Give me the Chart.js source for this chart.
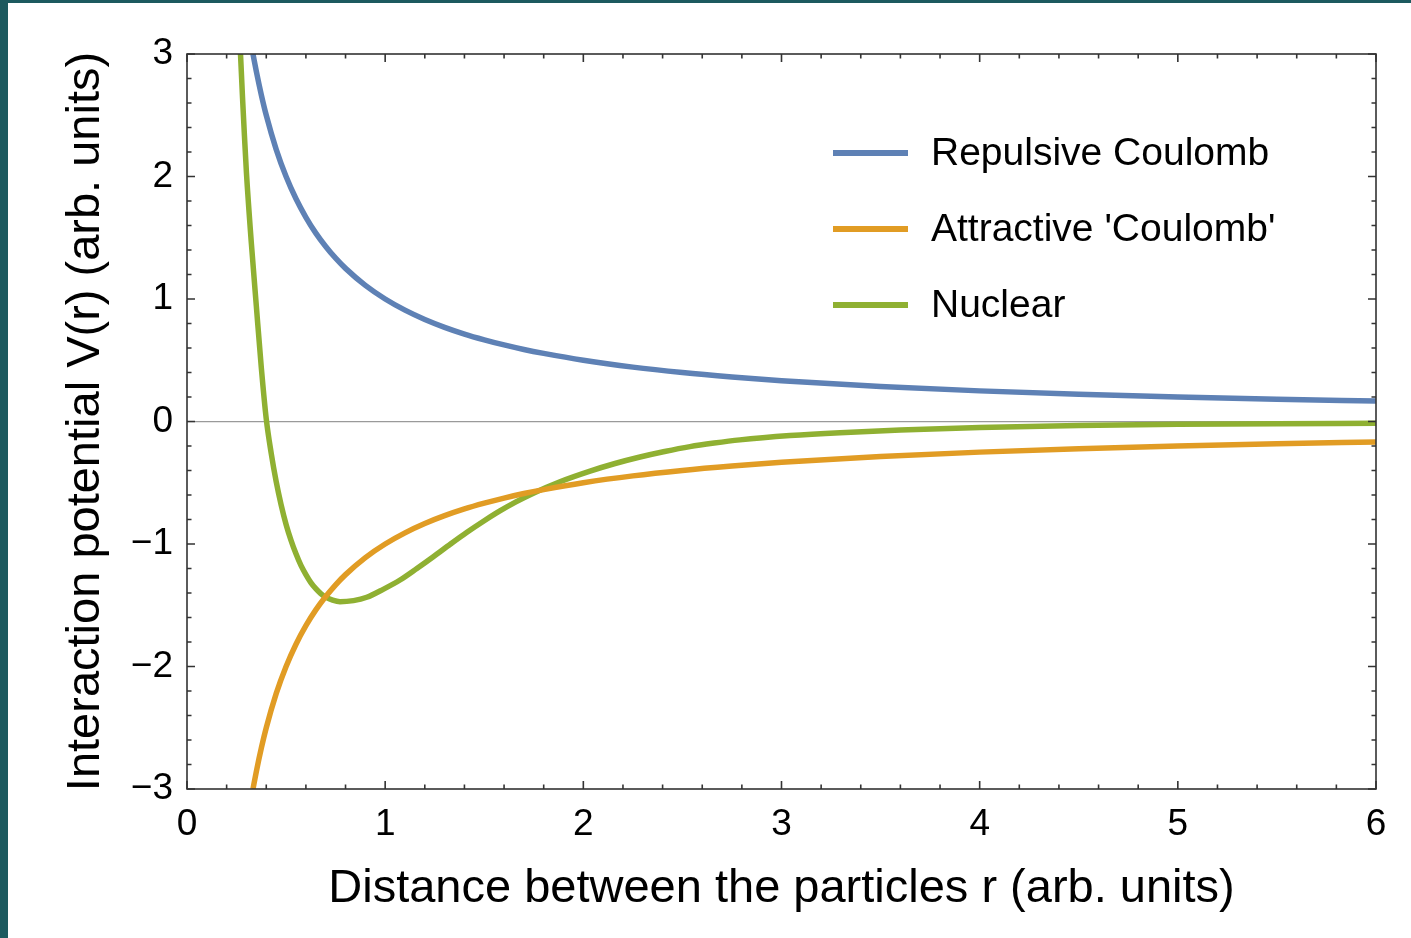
<!DOCTYPE html>
<html>
<head>
<meta charset="utf-8">
<script src="https://cdn.jsdelivr.net/npm/chart.js@4/dist/chart.umd.min.js"></script>
<style>
  html, body { margin: 0; padding: 0; background: #1d5a5f; }
  #wrap { position: absolute; left: 8px; top: 3px; width: 1403px; height: 935px; background: #fff; }
</style>
</head>
<body>
<div id="wrap"><canvas id="potential" width="1403" height="935"></canvas></div>
<script>
// values
let repulsiveR = [0.333, 0.35, 0.375, 0.4, 0.45, 0.5, 0.55, 0.6, 0.65, 0.7, 0.75, 0.8, 0.9, 1.0, 1.1, 1.2, 1.3, 1.4, 1.5, 1.6, 1.7, 1.8, 2.0, 2.25, 2.5, 2.75, 3.0, 3.5, 4.0, 4.5, 5.0, 5.5, 6.0];
let repulsiveV = [3.0, 2.857, 2.667, 2.5, 2.222, 2.0, 1.818, 1.667, 1.538, 1.429, 1.333, 1.25, 1.111, 1.0, 0.909, 0.833, 0.769, 0.714, 0.667, 0.625, 0.588, 0.556, 0.5, 0.444, 0.4, 0.364, 0.333, 0.286, 0.25, 0.222, 0.2, 0.182, 0.167];

let attractiveR = [0.333, 0.35, 0.375, 0.4, 0.45, 0.5, 0.55, 0.6, 0.65, 0.7, 0.75, 0.8, 0.9, 1.0, 1.1, 1.2, 1.3, 1.4, 1.5, 1.6, 1.7, 1.8, 2.0, 2.25, 2.5, 2.75, 3.0, 3.5, 4.0, 4.5, 5.0, 5.5, 6.0];
let attractiveV = [-3.0, -2.857, -2.667, -2.5, -2.222, -2.0, -1.818, -1.667, -1.538, -1.429, -1.333, -1.25, -1.111, -1.0, -0.909, -0.833, -0.769, -0.714, -0.667, -0.625, -0.588, -0.556, -0.5, -0.444, -0.4, -0.364, -0.333, -0.286, -0.25, -0.222, -0.2, -0.182, -0.167];

let nuclearR = [0.26, 0.27, 0.28, 0.29, 0.30, 0.325, 0.35, 0.375, 0.40, 0.425, 0.45, 0.475, 0.5, 0.525, 0.55, 0.575, 0.6, 0.625, 0.65, 0.675, 0.7, 0.735, 0.772, 0.84, 0.907, 0.99, 1.075, 1.16, 1.243, 1.33, 1.411, 1.5, 1.579, 1.66, 1.748, 1.882, 2.034, 2.16, 2.286, 2.41, 2.538, 2.66, 2.79, 3.043, 3.295, 3.6, 4.0, 4.5, 5.0, 5.5, 6.0];
let nuclearV = [3.4, 3.0, 2.65, 2.33, 2.03, 1.45, 0.94, 0.44, 0.02, -0.26, -0.49, -0.68, -0.84, -0.97, -1.08, -1.175, -1.25, -1.315, -1.365, -1.405, -1.433, -1.458, -1.471, -1.462, -1.435, -1.37, -1.294, -1.2, -1.104, -1.0, -0.906, -0.81, -0.73, -0.656, -0.585, -0.492, -0.405, -0.343, -0.29, -0.245, -0.205, -0.176, -0.15, -0.115, -0.091, -0.07, -0.048, -0.032, -0.023, -0.018, -0.015];

let xTicks = [0, 1, 2, 3, 4, 5, 6];
let yTicks = [-3, -2, -1, 0, 1, 2, 3];

let fontFamily = '"Liberation Sans", Arial, sans-serif';

function pairs(xs, ys) {
   let out = [];
   for (let i = 0; i < xs.length; i++) {
      out.push({x: xs[i], y: ys[i]});
   }
   return out;
}

// Mathematica style frame with inward ticks on all four sides
const frameTicks = {
   id: 'frameTicks',
   afterDraw(chart) {
      const ctx = chart.ctx;
      const a = chart.chartArea;
      const x = chart.scales.x;
      const y = chart.scales.y;
      ctx.save();
      ctx.strokeStyle = '#333';
      ctx.lineWidth = 1.6;
      ctx.beginPath();
      for (let i = 0; i <= 30; i++) {
         let px = x.getPixelForValue(xTicks[0] + i * 0.2);
         let len = i % 5 === 0 ? 8 : 4.5;
         ctx.moveTo(px, a.bottom); ctx.lineTo(px, a.bottom - len);
         ctx.moveTo(px, a.top); ctx.lineTo(px, a.top + len);
         let py = y.getPixelForValue(yTicks[0] + i * 0.2);
         ctx.moveTo(a.left, py); ctx.lineTo(a.left + len, py);
         ctx.moveTo(a.right, py); ctx.lineTo(a.right - len, py);
      }
      ctx.stroke();
      ctx.strokeRect(a.left, a.top, a.right - a.left, a.bottom - a.top);
      ctx.restore();
   }
};

// legend inside the plot, top right
const insideLegend = {
   id: 'insideLegend',
   afterDatasetsDraw(chart) {
      const ctx = chart.ctx;
      const left = 825, top = 150, gap = 76;
      ctx.save();
      ctx.font = '39px ' + fontFamily;
      ctx.textBaseline = 'middle';
      chart.data.datasets.forEach(function(ds, i) {
         let yy = top + i * gap;
         ctx.strokeStyle = ds.borderColor;
         ctx.lineWidth = 6;
         ctx.beginPath();
         ctx.moveTo(left, yy);
         ctx.lineTo(left + 75, yy);
         ctx.stroke();
         ctx.fillStyle = '#000';
         ctx.fillText(ds.label, left + 98, yy + 1);
      });
      ctx.restore();
   }
};

new Chart(document.getElementById('potential'), {
   type: 'scatter',
   data: {
      datasets: [
         {
            label: 'Repulsive Coulomb',
            data: pairs(repulsiveR, repulsiveV),
            borderColor: '#5e81b5',
            borderWidth: 5.5,
            showLine: true,
            pointRadius: 0,
            cubicInterpolationMode: 'monotone'
         },
         {
            label: "Attractive 'Coulomb'",
            data: pairs(attractiveR, attractiveV),
            borderColor: '#e19c24',
            borderWidth: 5.5,
            showLine: true,
            pointRadius: 0,
            cubicInterpolationMode: 'monotone'
         },
         {
            label: 'Nuclear',
            data: pairs(nuclearR, nuclearV),
            borderColor: '#8fb032',
            borderWidth: 5.5,
            showLine: true,
            pointRadius: 0,
            cubicInterpolationMode: 'monotone'
         }
      ]
   },
   options: {
      responsive: false,
      animation: false,
      layout: { padding: { left: 0, top: 51, right: 35, bottom: 0 } },
      plugins: {
         legend: { display: false },
         tooltip: { enabled: false }
      },
      scales: {
         x: {
            type: 'linear',
            min: 0,
            max: 6,
            afterFit: function(scale) { scale.height = 149; },
            afterBuildTicks: function(scale) { scale.ticks = xTicks.map(v => ({value: v})); },
            grid: { display: false, drawTicks: false },
            border: { display: false },
            ticks: {
               padding: 14,
               color: '#000',
               font: { family: fontFamily, size: 37 },
               maxRotation: 0
            },
            title: {
               display: true,
               text: 'Distance between the particles r (arb. units)',
               color: '#000',
               font: { family: fontFamily, size: 47 },
               padding: 21
            }
         },
         y: {
            type: 'linear',
            min: -3,
            max: 3,
            afterFit: function(scale) { scale.width = 179; },
            afterBuildTicks: function(scale) { scale.ticks = yTicks.map(v => ({value: v})); },
            grid: {
               drawTicks: false,
               lineWidth: 1.2,
               color: function(c) { return c.tick && c.tick.value === 0 ? '#9a9a9a' : 'rgba(0,0,0,0)'; }
            },
            border: { display: false },
            ticks: {
               padding: 14,
               color: '#000',
               font: { family: fontFamily, size: 37 },
               callback: function(v) { return v < 0 ? '\u2212' + Math.abs(v) : String(v); }
            },
            title: {
               display: true,
               text: 'Interaction potential V(r) (arb. units)',
               color: '#000',
               font: { family: fontFamily, size: 47 },
               padding: 50
            }
         }
      }
   },
   plugins: [frameTicks, insideLegend]
});
</script>
</body>
</html>
